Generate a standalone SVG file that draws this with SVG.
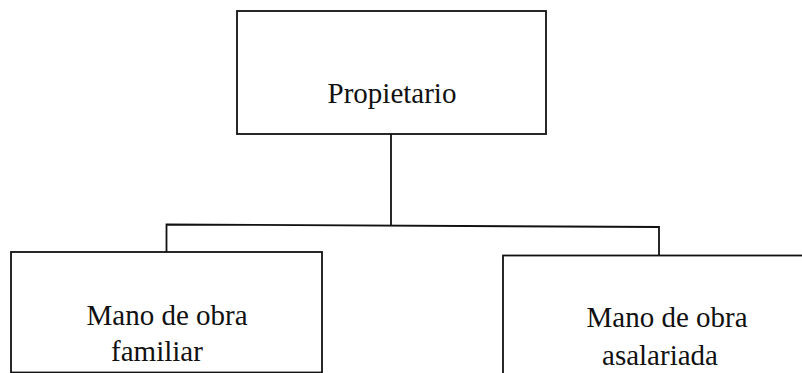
<svg xmlns="http://www.w3.org/2000/svg" width="802" height="373" viewBox="0 0 802 373">
<style>
.box{fill:#fff;stroke:#111;stroke-width:1.8}
.conn{fill:none;stroke:#111;stroke-width:1.8}
.lbl{font-family:"Liberation Serif","Times New Roman",serif;font-size:29px;fill:#111;text-anchor:middle}
</style>
<rect width="802" height="373" fill="#fff"/>
<g id="connectors">
<path class="conn" d="M391,134 V225.5"/>
<path class="conn" d="M166.5,252 V224.5 L659,227 V255.5"/>
</g>
<g id="propietario">
<rect class="box" x="237" y="11" width="309" height="123"/>
<text class="lbl" x="392" y="103">Propietario</text>
</g>
<g id="familiar">
<rect class="box" x="11" y="252" width="311" height="120.5"/>
<text class="lbl" x="167" y="325">Mano de obra</text>
<text class="lbl" x="157" y="361">familiar</text>
</g>
<g id="asalariada">
<rect class="box" x="503" y="255.5" width="330" height="130"/>
<text class="lbl" x="667" y="327">Mano de obra</text>
<text class="lbl" x="660" y="365">asalariada</text>
</g>
</svg>
